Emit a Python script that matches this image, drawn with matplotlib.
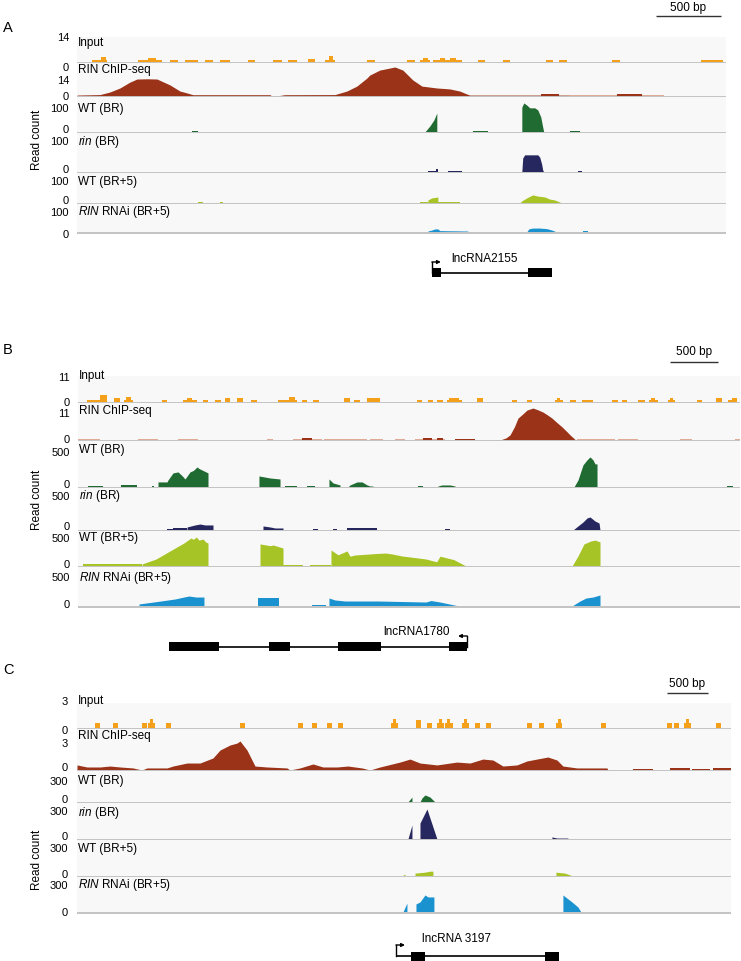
import matplotlib
matplotlib.use("Agg")
import matplotlib.pyplot as plt

plt.rcParams['font.family'] = ['Liberation Sans', 'DejaVu Sans']
plt.rcParams['mathtext.fontset'] = 'custom'
plt.rcParams['mathtext.rm'] = 'Liberation Sans'
plt.rcParams['mathtext.it'] = 'Liberation Sans:italic'

W, H = 741, 961

# ---------------------------------------------------------------- labels / styles
TRACK_NAMES = ["Input", "RIN ChIP-seq", "WT (BR)", r"$\mathit{rin}$ (BR)",
               "WT (BR+5)", r"$\mathit{RIN}$ RNAi (BR+5)"]
COLORS = ["#f5a01a", "#9a3318", "#1f6b32", "#27275f", "#a6c425", "#1a92cf"]
LIGHT_CHIP = "#dfab97"

# ---------------------------------------------------------------- panel A data (bp)
A_LEN = 5000
A_MAX = [14, 14, 100, 100, 100, 100]
A_TICKS = ["14", "14", "100", "100", "100", "100"]
A_INPUT = [(115, 230, 1), (185, 225, 2.6), (470, 655, 1), (545, 610, 2), (715, 780, 1),
           (830, 930, 1), (985, 1045, 1), (1100, 1180, 1), (1315, 1370, 1), (1510, 1580, 1),
           (1625, 1695, 1), (1780, 1835, 1.8), (1910, 1985, 1), (1940, 1970, 3.3),
           (2235, 2295, 1), (2540, 2605, 1), (2640, 2720, 1), (2665, 2705, 2), (2740, 2965, 1),
           (2795, 2835, 2), (2870, 2920, 2), (3090, 3140, 1), (3280, 3335, 1), (3610, 3665, 1),
           (3710, 3775, 1), (4125, 4180, 1), (4805, 4980, 1)]
A_CHIP = [[(0, 0), (0, 0.4), (177, 0.6), (254, 1.7), (331, 3.4), (408, 5.9), (462, 7.2),
           (540, 7.3), (616, 7.2), (716, 4.7), (793, 2.1), (847, 1.3), (893, 0.55),
           (1486, 0.55), (1500, 0.1), (1548, 0.1), (1600, 0.55), (1987, 0.6), (2079, 2.1),
           (2156, 4.2), (2233, 7.6), (2256, 8.9), (2333, 11.0), (2449, 12.3), (2510, 11.0),
           (2587, 6.8), (2657, 4.2), (2772, 3.4), (2872, 3.0), (2949, 2.1), (3003, 0.85),
           (3026, 0.4), (3781, 0.4), (3781, 0)],
          (3575, 3710, 0.7), (4160, 4350, 0.7)]
A_CHIP_LIGHT = [(3781, 4520, 0.25)]
A_WT_BR = [(885, 930, 3),
           [(2680, 0), (2718, 17), (2749, 34), (2772, 54), (2772, 0)],
           (3049, 3165, 3),
           [(3427, 0), (3427, 71), (3442, 83), (3465, 77), (3488, 69), (3527, 69),
            (3550, 63), (3573, 43), (3588, 14), (3596, 0)],
           (3796, 3873, 3)]
A_RIN_BR = [(2703, 2764, 3), (2764, 2780, 8), (2857, 2965, 2.5),
            [(3427, 0), (3434, 36), (3449, 44), (3550, 44), (3565, 38), (3580, 20),
             (3588, 5), (3596, 0)],
            (3858, 3888, 2.5)]
A_WT_BR5 = [(932, 970, 3), (1101, 1124, 3), (2641, 2703, 3.3),
            [(2703, 0), (2703, 10), (2734, 17), (2780, 20), (2780, 0)],
            (2780, 2949, 3.3),
            [(3411, 0), (3427, 7), (3465, 17), (3511, 27), (3550, 23), (3604, 20),
             (3642, 13), (3681, 10), (3719, 3), (3742, 0)]]
A_RNAI = [[(2703, 0), (2703, 3.5), (2734, 7), (2757, 11), (2780, 11), (2795, 5),
           (3011, 3.5), (3011, 0)],
          [(3465, 0), (3480, 11), (3511, 14), (3565, 14), (3619, 12), (3658, 7), (3696, 0)],
          (3896, 3935, 3.5)]
A_GENE_NAME = "lncRNA2155"
A_EXONS = [(2734, 2803), (3473, 3658)]
A_TSS = 2734
A_STRAND = 1

# ---------------------------------------------------------------- panel B data (bp)
B_LEN = 6885
B_MAX = [11, 11, 500, 500, 500, 500]
B_TICKS = ["11", "11", "500", "500", "500", "500"]
B_INPUT = [(94, 229, 1), (229, 302, 2.9), (374, 437, 1.7), (478, 572, 1), (499, 551, 2.1),
           (874, 926, 1), (1092, 1238, 1), (1134, 1186, 1.7), (1300, 1352, 1),
           (1425, 1487, 1), (1529, 1581, 1.7), (1654, 1716, 1.7), (1800, 1862, 1),
           (2080, 2278, 1), (2194, 2256, 2.1), (2330, 2382, 1), (2444, 2506, 1),
           (2766, 2829, 1.7), (2870, 2933, 1), (3006, 3141, 1.7), (3526, 3578, 1),
           (3640, 3692, 1), (3734, 3796, 1), (3838, 3994, 1), (3859, 3962, 1.7),
           (4150, 4212, 1.7), (4514, 4566, 1), (4670, 4722, 1), (4961, 5044, 1),
           (4982, 5013, 1.7), (5118, 5180, 1), (5243, 5358, 1), (5555, 5618, 1),
           (5660, 5712, 1), (5826, 5899, 1), (5941, 6035, 1), (5962, 6003, 1.7),
           (6139, 6212, 1), (6160, 6191, 1.7), (6441, 6493, 1), (6639, 6702, 1.7),
           (6764, 6858, 1), (6800, 6858, 1.7)]
B_CHIP = [[(4389, 0), (4450, 0.6), (4493, 1.5), (4540, 4.0), (4576, 6.5), (4620, 7.6),
           (4670, 8.9), (4700, 9.2), (4732, 9.5), (4780, 9.0), (4836, 8.3), (4880, 7.5),
           (4930, 6.5), (4980, 5.2), (5034, 3.9), (5080, 2.6), (5118, 1.5), (5170, 0.15),
           (5170, 0)],
          (2330, 2430, 0.5), (3588, 3682, 0.6), (3734, 3796, 0.5), (3921, 4129, 0.35)]
B_CHIP_LIGHT = [(0, 229, 0.3), (624, 832, 0.3), (1040, 1248, 0.3), (1966, 2028, 0.3),
                (2236, 2538, 0.3), (2558, 3006, 0.3), (3037, 3172, 0.3), (3297, 3401, 0.3),
                (3505, 3817, 0.3), (5190, 5585, 0.25), (5616, 5824, 0.25),
                (6261, 6386, 0.25), (6833, 6885, 0.25)]
B_WT_BR = [(104, 260, 11), (447, 614, 22), (770, 790, 11),
           [(832, 0), (832, 55), (926, 55), (936, 76), (988, 153), (1040, 164), (1085, 120),
            (1113, 87), (1165, 164), (1200, 180), (1238, 218), (1260, 200), (1290, 185),
            (1352, 153), (1352, 0)],
           [(1882, 0), (1882, 120), (1997, 98), (2101, 87), (2101, 0)],
           (2153, 2278, 11), (2382, 2465, 11),
           [(2610, 0), (2610, 87), (2652, 44), (2725, 22), (2725, 0)],
           [(2808, 0), (2829, 22), (2902, 55), (2954, 55), (3006, 22), (3037, 11),
            (3068, 11), (3068, 0)],
           (3536, 3588, 11),
           [(3744, 0), (3744, 11), (3786, 22), (3869, 22), (3921, 11), (3921, 0)],
           [(5158, 0), (5200, 76), (5252, 240), (5294, 295), (5325, 327), (5356, 295),
            (5377, 251), (5398, 251), (5398, 0)],
           (6754, 6816, 11)]
B_RIN_BR = [(926, 988, 12), (988, 1134, 24),
            [(1134, 0), (1134, 36), (1217, 60), (1269, 71), (1321, 60), (1404, 60), (1404, 0)],
            [(1924, 0), (1924, 48), (1997, 36), (2049, 24), (2132, 24), (2132, 0)],
            (2444, 2496, 12), (2652, 2694, 12), (2798, 3110, 24), (3817, 3869, 12),
            [(5148, 0), (5200, 48), (5252, 95), (5294, 143), (5325, 155), (5377, 107),
             (5419, 83), (5429, 0)]]
B_WT_BR5 = [(52, 666, 24),
            [(666, 0), (666, 29), (812, 100), (957, 215), (1102, 329), (1175, 400),
             (1200, 380), (1230, 415), (1258, 370), (1300, 385), (1331, 340), (1352, 329),
             (1352, 0)],
            [(1893, 0), (1893, 315), (2000, 290), (2030, 300), (2132, 257), (2132, 0)],
            (2132, 2340, 21), (2413, 2631, 14),
            [(2631, 0), (2631, 229), (2704, 160), (2798, 215), (2829, 140), (2881, 157),
             (3120, 180), (3200, 185), (3266, 172), (3370, 143), (3619, 100), (3730, 60),
             (3765, 140), (3910, 90), (4035, 0)],
            [(5138, 0), (5200, 143), (5262, 315), (5335, 358), (5380, 370), (5429, 343),
             (5429, 0)]]
B_RNAI = [[(634, 0), (634, 26), (863, 64), (1009, 90), (1102, 115), (1154, 128),
           (1227, 115), (1310, 115), (1310, 0)],
          [(1872, 0), (1872, 102), (2090, 102), (2090, 0)],
          (2434, 2579, 13),
          [(2610, 0), (2610, 102), (2673, 77), (2777, 64), (3120, 64), (3349, 58),
           (3619, 51), (3671, 70), (3765, 51), (3962, 0)],
          [(5138, 0), (5221, 64), (5283, 102), (5356, 115), (5429, 141), (5429, 0)]]
B_GENE_NAME = "lncRNA1780"
B_EXONS = [(946, 1467), (1986, 2205), (2704, 3151), (3858, 4046)]
B_TSS = 4046
B_STRAND = -1

# ---------------------------------------------------------------- panel C data (bp)
C_LEN = 7980
C_MAX = [3, 3, 300, 300, 300, 300]
C_TICKS = ["3", "3", "300", "300", "300", "300"]
C_INPUT = [(220, 281, 0.6), (439, 500, 0.6), (793, 854, 0.6), (866, 952, 0.6),
           (891, 927, 1.1), (1086, 1147, 0.6), (1989, 2050, 0.6), (2696, 2757, 0.6),
           (2867, 2928, 0.6), (3050, 3111, 0.6), (3184, 3245, 0.6), (3831, 3916, 0.6),
           (3855, 3892, 1.1), (4136, 4197, 1.0), (4270, 4331, 0.6), (4392, 4477, 0.6),
           (4416, 4453, 1.1), (4490, 4587, 0.6), (4514, 4551, 1.1), (4697, 4782, 0.6),
           (4721, 4758, 1.1), (4856, 4917, 0.6), (4990, 5051, 0.6), (5490, 5551, 0.6),
           (5636, 5697, 0.6), (5844, 5917, 0.6), (5868, 5904, 1.1), (6393, 6454, 0.6),
           (7198, 7259, 0.6), (7283, 7344, 0.6), (7405, 7491, 0.6), (7430, 7466, 1.1),
           (7796, 7857, 0.6)]
C_CHIP = [[(0, 0), (0, 0.37), (122, 0.22), (281, 0.22), (403, 0.29), (525, 0.22),
           (683, 0.15), (793, 0.0), (854, 0.15), (1098, 0.15), (1171, 0.29), (1342, 0.51),
           (1501, 0.51), (1659, 0.88), (1745, 1.46), (1867, 1.83), (1952, 1.97),
           (1989, 2.12), (2074, 1.46), (2172, 0.29), (2318, 0.22), (2562, 0.15), (2599, 0),
           (2721, 0.15), (2879, 0.44), (3001, 0.22), (3172, 0.22), (3306, 0.29),
           (3477, 0.15), (3575, 0), (3697, 0.22), (3941, 0.58), (4063, 0.80), (4185, 0.51),
           (4392, 0.37), (4636, 0.58), (4795, 0.51), (4953, 0.80), (5075, 0.73),
           (5197, 0.29), (5368, 0.37), (5490, 0.66), (5612, 0.80), (5746, 0.95),
           (5856, 0.73), (5929, 0.29), (6100, 0.15), (6466, 0.15), (6478, 0)],
          (6783, 7027, 0.07), (7235, 7479, 0.15), (7503, 7723, 0.07), (7759, 7980, 0.15)]
C_CHIP_LIGHT = []
C_WT_BR = [[(4038, 0), (4087, 48), (4087, 0)],
           [(4185, 0), (4209, 39), (4246, 68), (4307, 48), (4368, 0)]]
C_RIN_BR = [[(4038, 0), (4087, 117), (4087, 0)],
            [(4185, 0), (4185, 133), (4270, 250), (4331, 125), (4392, 0)],
            [(5795, 0), (5795, 17), (5856, 8), (5990, 8), (5990, 0)]]
C_WT_BR5 = [[(3965, 0), (4002, 16), (4002, 0)],
            [(4124, 0), (4124, 24), (4246, 32), (4307, 40), (4343, 40), (4343, 0)],
            [(5844, 0), (5844, 32), (5954, 24), (6051, 0)]]
C_RNAI = [[(3977, 0), (4026, 77), (4026, 0)],
          [(4136, 0), (4136, 69), (4185, 86), (4246, 146), (4282, 129), (4355, 129),
           (4355, 0)],
          [(5929, 0), (5929, 146), (6039, 86), (6112, 43), (6149, 0)]]
C_GENE_NAME = "lncRNA 3197"
C_EXONS = [(4075, 4246), (5710, 5880)]
C_TSS = 3892
C_STRAND = 1

SCALE_BP = 500

# ---------------------------------------------------------------- layout (pixels)
PANELS = [
    dict(letter="A", letter_y=28, L=77, R=726, length=A_LEN, ymax=A_MAX, ticks=A_TICKS,
         tracks=[A_INPUT, A_CHIP, A_WT_BR, A_RIN_BR, A_WT_BR5, A_RNAI], light=A_CHIP_LIGHT,
         bands=[(37, 62), (63, 96), (97, 132), (133, 172), (173, 203), (204, 232)],
         name_y=[43, 70, 109, 142, 182, 212], top_y=[38, 81, 109, 142, 182, 213],
         zero_y=[68, 97, 130, 170, 201, 235], tick_r=69, name_x=78,
         readcount_y=140, sb_px=(656, 721), sb_line_y=16, sb_text_y=8,
         gene_y=273, exons=A_EXONS, tss=A_TSS, strand=A_STRAND, gene_name=A_GENE_NAME,
         gene_label_x=451, gene_label_y=259),
    dict(letter="B", letter_y=350, L=78, R=740, length=B_LEN, ymax=B_MAX, ticks=B_TICKS,
         tracks=[B_INPUT, B_CHIP, B_WT_BR, B_RIN_BR, B_WT_BR5, B_RNAI], light=B_CHIP_LIGHT,
         bands=[(376, 402), (403, 440), (441, 487), (488, 530), (531, 566), (567, 606)],
         name_y=[376, 411, 450, 496, 538, 578], top_y=[378, 414, 453, 497, 539, 578],
         zero_y=[403, 440, 485, 527, 565, 605], tick_r=70, name_x=79,
         readcount_y=500, sb_px=(670, 718), sb_line_y=362, sb_text_y=352,
         gene_y=647, exons=B_EXONS, tss=B_TSS, strand=B_STRAND, gene_name=B_GENE_NAME,
         gene_label_x=383, gene_label_y=632),
    dict(letter="C", letter_y=670, L=77, R=731, length=C_LEN, ymax=C_MAX, ticks=C_TICKS,
         tracks=[C_INPUT, C_CHIP, C_WT_BR, C_RIN_BR, C_WT_BR5, C_RNAI], light=C_CHIP_LIGHT,
         bands=[(703, 728), (729, 770), (771, 802), (803, 839), (840, 876), (877, 912)],
         name_y=[701, 736, 781, 813, 849, 885], top_y=[702, 744, 782, 812, 849, 886],
         zero_y=[731, 768, 800, 837, 875, 913], tick_r=68, name_x=78,
         readcount_y=860, sb_px=(667, 708), sb_line_y=693, sb_text_y=684,
         gene_y=956, exons=C_EXONS, tss=C_TSS, strand=C_STRAND, gene_name=C_GENE_NAME,
         gene_label_x=422, gene_label_y=939),
]

FS = 8.5
FS_TICK = 8

fig = plt.figure(figsize=(W / 100, H / 100), dpi=100)


def ftext(px, py, s, **kw):
    fig.text(px / W, 1 - py / H, s, **kw)


def draw_segments(ax, segs, color):
    for seg in segs:
        if isinstance(seg, tuple):
            s, e, v = seg
            ax.bar(s, v, width=e - s, align='edge', color=color, lw=0)
        else:
            xs = [p[0] for p in seg]
            ys = [p[1] for p in seg]
            ax.fill_between(xs, ys, 0, color=color, lw=0)


for P in PANELS:
    L, R, length = P["L"], P["R"], P["length"]
    bp_per_px = length / (R - L)
    # overlay axes in pixel-y coordinates for gene model + scale bar
    top_px = P["sb_text_y"] - 8
    bot_px = P["gene_y"] + 10
    ov = fig.add_axes([L / W, 1 - bot_px / H, (R - L) / W, (bot_px - top_px) / H])
    ov.set_xlim(0, length)
    ov.set_ylim(bot_px, top_px)
    ov.axis('off')
    ov.patch.set_alpha(0)
    # scale bar
    sb0 = (P["sb_px"][0] - L) * bp_per_px
    ov.plot([sb0, sb0 + SCALE_BP], [P["sb_line_y"]] * 2, color='#333333', lw=1.0,
            clip_on=False, solid_capstyle='butt')
    ov.text(sb0 + SCALE_BP / 2, P["sb_text_y"], "500 bp", ha='center', va='center',
            fontsize=FS, clip_on=False)
    # gene model
    gy = P["gene_y"]
    ex = P["exons"]
    line_lo = min(P["tss"], ex[0][0])
    line_hi = max(P["tss"], ex[-1][1])
    ov.plot([line_lo, line_hi], [gy, gy], color='black', lw=1.2, solid_capstyle='butt')
    for s, e in ex:
        ov.add_patch(plt.Rectangle((s, gy - 4.5), e - s, 9, color='black', lw=0))
    arrow_len = 9 * bp_per_px
    ov.plot([P["tss"], P["tss"]], [gy, gy - 11], color='black', lw=1.0)
    ov.annotate("", xy=(P["tss"] + P["strand"] * arrow_len, gy - 11),
                xytext=(P["tss"], gy - 11),
                arrowprops=dict(arrowstyle='-|>', lw=1.0, color='black',
                                mutation_scale=5, shrinkA=0, shrinkB=0))
    ftext(P["gene_label_x"], P["gene_label_y"], P["gene_name"], ha='left', va='center',
          fontsize=FS)

    # tracks
    for i, (top, base) in enumerate(P["bands"]):
        ymax = P["ymax"][i]
        ax = fig.add_axes([L / W, 1 - (base + 1.5) / H, (R - L) / W, (base + 1.5 - top) / H])
        pad = ymax * 1.5 / (base - top)
        ax.set_xlim(0, length)
        ax.set_ylim(-pad, ymax)
        ax.set_facecolor('#f8f8f8')
        for sp in ax.spines.values():
            sp.set_visible(False)
        ax.set_xticks([])
        ax.set_yticks([])
        ax.axhline(-pad / 2, color='#c3c3c3', lw=1.4)
        if i == 1:
            draw_segments(ax, P["light"], LIGHT_CHIP)
        draw_segments(ax, P["tracks"][i], COLORS[i])
        # texts
        ftext(P["name_x"], P["name_y"][i], TRACK_NAMES[i], ha='left', va='center',
              fontsize=FS)
        ftext(P["tick_r"], P["top_y"][i], P["ticks"][i], ha='right', va='center',
              fontsize=FS_TICK)
        ftext(P["tick_r"], P["zero_y"][i], "0", ha='right', va='center', fontsize=FS_TICK)

    ftext(8, P["letter_y"], P["letter"], ha='center', va='center', fontsize=10.5)
    ftext(37, P["readcount_y"], "Read count", ha='center', va='center', rotation=90,
          fontsize=FS)

fig.savefig("out.png", dpi=100)
